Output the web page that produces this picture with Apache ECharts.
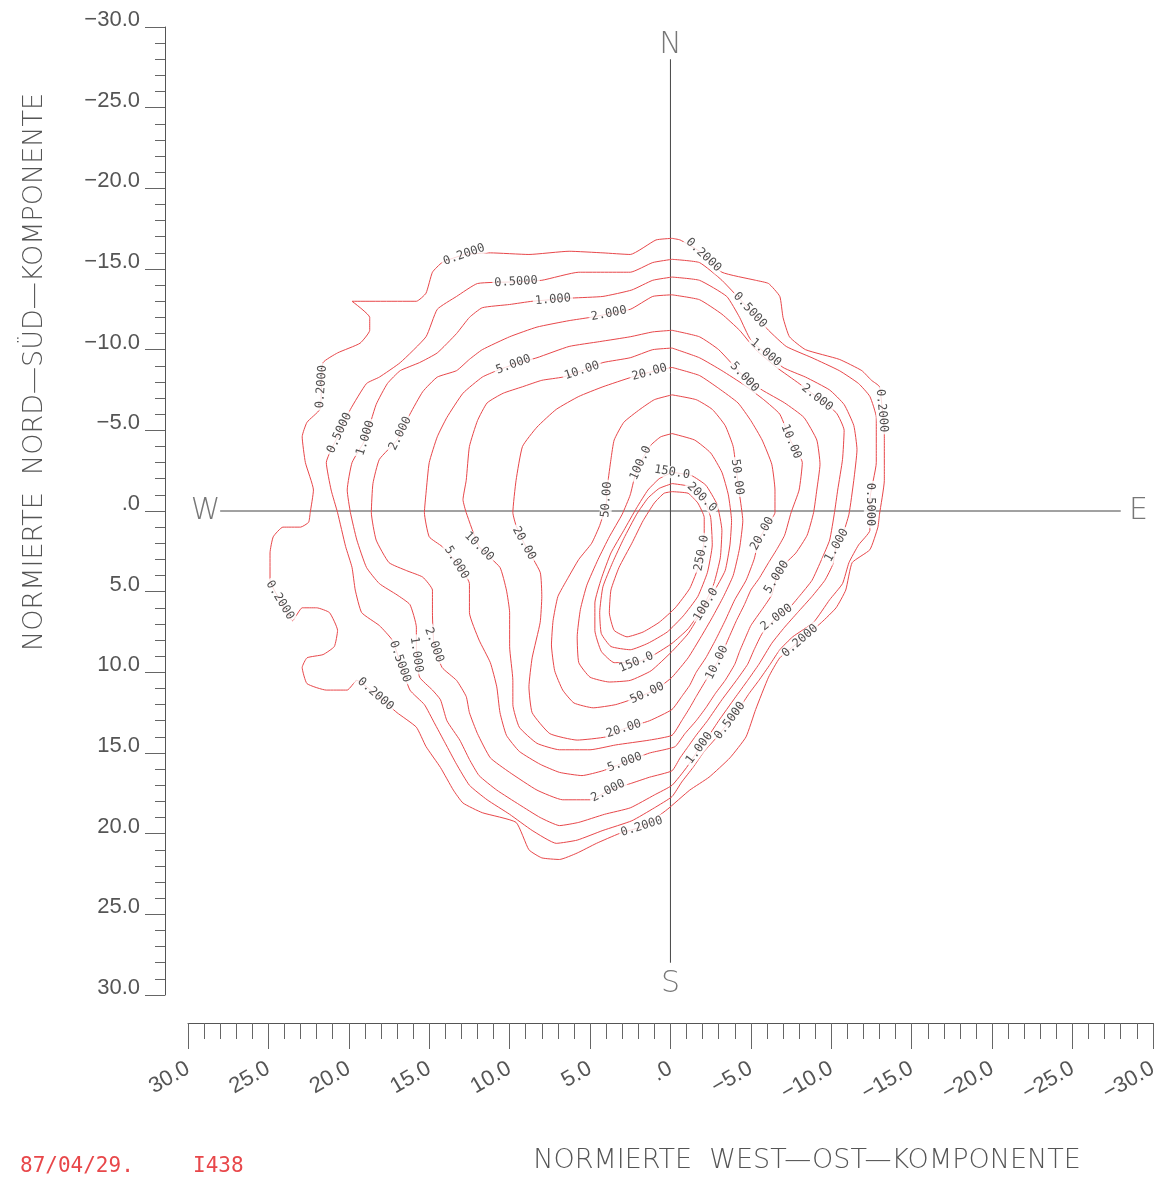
<!DOCTYPE html>
<html>
<head>
<meta charset="utf-8">
<title>Normierte Nord-Süd / West-Ost Komponente</title>
<script src="https://cdn.jsdelivr.net/npm/echarts@6/dist/echarts.min.js"></script>
<style>
  html, body { margin: 0; padding: 0; background: #fff; }
  #chart { width: 1161px; height: 1180px; }
</style>
</head>
<body>
<div id="chart"></div>
<script>
//////////// data ////////////
// contour levels, outermost first
var levels = [0.2, 0.5, 1, 2, 5, 10, 20, 50, 100, 150, 200, 250];

// contour paths as [west-ost, nord-sued] pairs
var contour_0_2 = [[-0.1,-16.9],[-0.6,-16.8],[-1.8,-16.1],[-3.2,-14.8],[-5.3,-14.3],[-6.1,-14.1],[-6.8,-13.3],[-7.0,-12.0],[-7.4,-10.8],[-8.4,-10.0],[-10.5,-9.4],[-11.9,-8.7],[-12.5,-8.1],[-13.0,-7.7],[-13.3,-4.6],[-13.3,-1.9],[-13.0,0.2],[-12.9,1.0],[-12.4,2.4],[-11.3,3.2],[-10.9,4.9],[-10.3,6.0],[-9.4,6.9],[-8.0,8.1],[-6.8,9.1],[-6.1,10.3],[-5.3,12.3],[-4.7,14.0],[-3.7,15.3],[-2.4,16.5],[-1.2,17.3],[0.2,18.5],[1.6,19.5],[3.2,20.0],[4.6,20.6],[5.8,21.2],[6.9,21.6],[8.0,21.5],[8.8,21.0],[9.6,19.3],[11.7,18.7],[12.9,18.1],[13.5,17.3],[14.3,15.9],[15.2,14.6],[15.8,13.4],[17.0,12.5],[18.4,11.3],[19.5,10.5],[20.1,11.1],[21.4,11.1],[22.6,10.7],[22.9,9.7],[22.6,9.1],[21.6,8.9],[20.9,8.4],[20.7,7.4],[21.2,6.3],[22.0,6.0],[22.9,6.0],[23.5,6.8],[24.3,5.5],[24.9,4.3],[24.9,2.6],[24.7,1.6],[24.1,1.0],[23.0,1.0],[22.5,0.7],[22.4,0.1],[22.2,-1.3],[22.7,-3.0],[22.9,-4.6],[22.6,-5.5],[21.8,-6.3],[21.7,-7.7],[21.6,-9.2],[20.7,-9.8],[19.3,-10.4],[18.7,-11.2],[18.7,-12.0],[19.8,-13.0],[15.8,-13.0],[15.2,-13.5],[14.8,-14.8],[14.2,-15.4],[12.8,-15.9],[11.2,-16.0],[8.8,-15.9],[6.3,-16.1],[4.2,-16.0],[2.5,-15.9],[0.9,-16.8]];
var contour_0_5 = [[-0.1,-15.6],[-1.8,-15.4],[-3.2,-14.3],[-4.9,-12.5],[-6.1,-11.2],[-7.2,-10.2],[-8.8,-9.5],[-10.5,-8.7],[-11.7,-7.9],[-12.4,-7.1],[-12.8,-5.8],[-12.8,-3.0],[-12.4,-0.7],[-12.4,1.2],[-11.7,2.1],[-11.1,3.2],[-10.7,4.5],[-9.9,5.5],[-8.9,6.9],[-7.6,7.8],[-6.8,8.6],[-6.2,9.5],[-5.5,10.5],[-4.9,11.3],[-4.3,12.2],[-3.7,13.0],[-2.9,14.0],[-2.1,14.9],[-1.4,15.9],[-0.7,16.8],[-0.1,17.7],[1.0,18.4],[2.4,19.2],[4.2,19.8],[5.8,20.4],[7.1,20.6],[8.6,19.8],[10.0,18.8],[11.4,17.9],[12.5,17.0],[13.3,15.7],[14.0,14.4],[14.7,13.1],[15.3,12.0],[16.2,11.1],[16.8,9.4],[17.3,8.0],[18.1,7.1],[19.2,6.3],[19.6,4.9],[19.8,3.5],[20.2,2.2],[20.7,0.1],[21.1,-1.3],[21.4,-3.0],[20.6,-4.8],[19.9,-6.3],[18.9,-7.9],[18.1,-8.3],[16.8,-9.2],[15.2,-10.8],[14.5,-12.5],[13.3,-13.3],[12.0,-14.1],[9.7,-14.2],[8.0,-14.3],[5.7,-14.8],[2.5,-14.8],[1.1,-15.4]];
var contour_1 = [[-0.1,-14.5],[-1.8,-14.3],[-3.5,-13.3],[-4.3,-12.0],[-5.0,-10.6],[-7.0,-8.9],[-8.4,-8.3],[-9.9,-7.5],[-10.8,-6.6],[-11.4,-5.3],[-11.6,-3.8],[-11.4,-1.9],[-11.1,0.2],[-10.7,1.5],[-10.3,2.2],[-10.1,3.3],[-9.6,4.3],[-8.8,5.3],[-7.9,6.3],[-7.1,7.2],[-6.3,8.2],[-5.5,9.5],[-4.8,10.5],[-4.0,11.6],[-3.0,13.0],[-2.4,13.9],[-1.8,14.7],[-1.0,15.9],[-0.1,17.0],[1.0,17.6],[2.5,18.4],[4.1,18.8],[5.7,19.3],[6.9,19.5],[8.1,19.0],[9.4,18.2],[10.8,17.3],[11.9,16.4],[12.5,15.4],[13.1,14.2],[13.9,13.0],[14.3,11.7],[14.8,11.1],[15.6,10.3],[15.8,8.9],[15.8,7.2],[16.2,5.8],[17.0,5.2],[18.1,4.5],[18.9,3.5],[19.5,1.8],[19.9,0.1],[20.1,-1.3],[19.8,-3.0],[19.0,-4.4],[18.3,-6.6],[17.6,-7.9],[16.8,-8.7],[15.6,-9.2],[14.5,-9.8],[13.3,-11.0],[12.5,-12.0],[11.7,-12.6],[10.0,-12.8],[8.6,-13.0],[6.1,-13.2],[4.2,-13.3],[2.4,-13.7],[1.1,-14.3]];
var contour_2 = [[-0.1,-13.4],[-1.8,-13.1],[-3.2,-12.2],[-4.3,-11.2],[-5.3,-10.0],[-6.6,-8.9],[-8.0,-7.9],[-10.3,-6.1],[-10.8,-5.0],[-10.7,-3.2],[-10.4,-1.3],[-10.2,0.1],[-9.9,1.8],[-9.4,3.0],[-8.8,4.3],[-8.0,5.3],[-7.4,6.0],[-6.6,6.6],[-5.7,7.6],[-5.2,8.6],[-4.8,9.5],[-4.1,10.5],[-3.2,11.7],[-2.3,13.0],[-1.6,13.9],[-1.1,14.6],[-0.6,15.3],[-0.1,16.1],[1.3,16.5],[2.5,16.9],[3.8,17.3],[5.0,17.9],[6.7,17.9],[8.3,17.3],[10.0,16.2],[11.2,15.3],[12.0,13.8],[12.5,12.5],[12.7,11.5],[13.3,10.5],[14.2,9.7],[14.7,8.3],[14.8,6.3],[14.8,4.9],[15.4,4.1],[16.4,3.7],[17.5,3.2],[18.3,1.8],[18.6,0.1],[18.5,-1.7],[18.1,-3.2],[17.0,-4.4],[16.2,-6.0],[15.4,-7.4],[14.5,-8.3],[13.3,-8.7],[12.5,-9.4],[11.7,-10.0],[10.0,-10.8],[8.3,-11.4],[6.3,-11.8],[5.0,-12.0],[2.5,-12.5],[1.1,-13.3]];
var contour_5 = [[-0.1,-11.2],[-1.8,-10.8],[-3.0,-10.0],[-4.6,-8.3],[-5.7,-7.5],[-7.1,-6.7],[-8.3,-5.8],[-9.1,-4.4],[-9.3,-2.9],[-9.1,-1.3],[-8.9,0.1],[-8.5,1.5],[-7.8,2.6],[-7.1,3.3],[-6.6,4.1],[-6.3,5.2],[-5.7,6.1],[-5.0,7.1],[-4.6,8.0],[-4.3,8.7],[-4.0,9.5],[-3.4,10.5],[-2.8,11.3],[-2.2,12.2],[-1.6,13.0],[-0.9,13.8],[-0.3,14.6],[0.4,14.8],[1.3,15.0],[2.9,15.6],[4.2,16.1],[5.5,16.4],[6.9,16.2],[8.1,15.7],[9.4,14.9],[10.2,13.9],[10.6,12.5],[10.8,10.9],[11.2,9.4],[11.9,8.0],[12.5,6.3],[12.5,4.5],[13.3,3.2],[14.2,2.2],[15.0,1.6],[15.3,0.1],[15.2,-1.1],[15.0,-3.0],[14.5,-4.6],[13.9,-5.8],[12.9,-7.3],[11.7,-8.3],[10.8,-8.7],[9.7,-9.1],[8.3,-9.5],[6.3,-10.2],[4.4,-10.5],[2.5,-10.8],[1.1,-11.1]];
var contour_10 = [[-0.1,-10.1],[-1.8,-9.5],[-3.2,-8.7],[-4.6,-7.8],[-5.8,-6.9],[-6.8,-6.0],[-7.5,-4.3],[-8.2,-3.0],[-8.0,-1.3],[-7.5,0.1],[-7.1,1.5],[-6.6,2.4],[-6.1,3.2],[-5.5,4.2],[-5.0,4.9],[-4.6,5.8],[-4.1,6.8],[-3.7,7.7],[-3.3,8.6],[-2.9,9.4],[-2.2,10.5],[-1.6,11.5],[-1.2,12.2],[-0.7,13.0],[-0.1,13.9],[1.3,14.2],[3.4,14.5],[5.0,14.8],[6.9,14.8],[8.3,14.4],[9.4,13.4],[9.8,12.0],[9.8,10.5],[10.0,8.4],[10.0,6.3],[10.2,4.9],[10.6,3.5],[11.9,2.2],[12.7,0.1],[12.9,-0.7],[12.7,-1.9],[12.5,-4.0],[12.0,-5.6],[11.4,-6.7],[10.4,-7.3],[9.2,-7.7],[8.0,-8.1],[6.7,-8.3],[5.5,-8.7],[4.2,-9.2],[2.5,-9.5],[1.1,-10.0]];
var contour_20 = [[-0.1,-8.9],[-1.8,-8.4],[-3.0,-7.6],[-4.2,-6.7],[-5.0,-5.6],[-5.7,-4.4],[-6.3,-2.9],[-6.5,-1.3],[-6.5,0.1],[-6.0,0.9],[-5.5,1.8],[-5.2,3.0],[-4.7,4.3],[-4.0,5.5],[-3.4,6.8],[-2.8,8.0],[-2.2,9.1],[-1.6,10.0],[-1.2,10.8],[-0.7,11.5],[-0.1,12.3],[1.3,13.0],[2.9,13.5],[4.0,14.0],[5.8,14.2],[7.5,13.8],[8.6,12.5],[8.8,10.9],[8.6,9.1],[8.1,6.9],[8.0,5.3],[8.1,3.8],[9.1,2.0],[9.6,0.9],[9.8,0.1],[9.6,-1.9],[9.2,-4.0],[8.3,-5.2],[7.1,-6.3],[5.7,-7.1],[4.2,-7.7],[2.4,-8.3],[1.3,-8.6]];
var contour_50 = [[-0.1,-7.2],[-1.6,-6.9],[-2.6,-6.3],[-3.4,-5.3],[-3.9,-4.0],[-4.1,-2.5],[-4.3,-1.0],[-4.5,0.6],[-4.3,2.3],[-3.9,4.0],[-3.3,5.3],[-2.6,6.6],[-1.9,7.8],[-1.1,9.1],[-0.1,10.3],[0.8,11.0],[1.9,11.5],[3.4,12.0],[4.8,12.2],[6.0,11.9],[6.7,11.1],[7.2,9.9],[7.4,8.3],[7.3,6.8],[7.0,5.3],[6.4,4.2],[5.7,3.0],[4.9,2.0],[4.4,0.9],[4.0,-0.4],[3.9,-1.7],[3.7,-3.2],[3.5,-4.4],[2.9,-5.5],[1.9,-6.3],[1.0,-6.9]];
var contour_100 = [[-0.1,-4.8],[-1.5,-4.4],[-2.5,-3.6],[-3.2,-2.4],[-3.6,-1.0],[-3.8,0.6],[-3.7,2.1],[-3.4,3.7],[-2.7,5.0],[-1.9,6.3],[-1.1,7.6],[-0.1,8.7],[1.2,9.9],[2.5,10.5],[3.8,10.6],[5.0,10.3],[5.7,9.4],[5.8,7.8],[5.6,6.1],[5.2,4.6],[4.5,3.0],[3.8,1.6],[3.0,0.2],[2.5,-1.0],[2.2,-2.2],[1.7,-3.3],[1.2,-4.1],[0.6,-4.6]];
var contour_150 = [[-0.1,-2.4],[-1.3,-2.2],[-2.2,-1.6],[-2.9,-0.4],[-3.2,1.2],[-3.1,2.9],[-2.7,4.5],[-2.0,6.0],[-1.1,7.3],[-0.1,8.2],[1.0,8.9],[2.2,9.4],[3.5,9.4],[4.3,8.7],[4.7,7.4],[4.7,5.7],[4.3,4.2],[3.7,2.6],[2.9,1.2],[2.1,-0.2],[1.4,-1.3],[0.7,-2.0]];
var contour_200 = [[-0.1,-1.7],[-1.3,-1.5],[-2.1,-0.7],[-2.5,0.4],[-2.6,2.1],[-2.3,3.8],[-1.7,5.3],[-0.8,6.5],[0.2,7.5],[1.4,8.2],[2.5,8.6],[3.7,8.4],[4.3,7.6],[4.4,6.3],[4.2,4.7],[3.6,3.2],[2.9,1.7],[2.1,0.2],[1.4,-0.8],[0.7,-1.4]];
var contour_250 = [[-0.1,-1.2],[-1.1,-1.1],[-1.7,-0.5],[-2.1,0.4],[-2.1,1.8],[-1.8,3.3],[-1.2,4.8],[-0.3,6.0],[0.7,6.9],[1.7,7.5],[2.7,7.8],[3.5,7.4],[3.8,6.3],[3.7,4.9],[3.2,3.5],[2.4,2.0],[1.7,0.6],[1.0,-0.5],[0.4,-1.1]];

var contours = [contour_0_2, contour_0_5, contour_1, contour_2, contour_5, contour_10,
                contour_20, contour_50, contour_100, contour_150, contour_200, contour_250];

// where the value of a contour is written: [level, x, y]
var labelSpots = [
  [0.2, 12.8, -15.8], [0.2, -1.9, -15.7], [0.2, 21.7, -7.7], [0.2, -13.0, -6.2],
  [0.2, 24.4, 5.6], [0.2, 18.3, 11.3], [0.2, 1.8, 19.5], [0.2, -8.1, 8.1],
  [0.5, 9.6, -14.2], [0.5, -5.0, -12.5], [0.5, 20.5, -4.8], [0.5, -12.4, -0.4],
  [0.5, 17.0, 9.4], [0.5, -3.7, 13.0],
  [1, 7.3, -13.0], [1, -6.0, -9.9], [1, 18.9, -4.5], [1, -10.3, 2.1],
  [1, 16.0, 8.9], [1, -1.8, 14.7],
  [2, 3.8, -12.1], [2, -9.1, -7.0], [2, 17.0, -4.9], [2, -6.6, 6.6],
  [2, 14.7, 8.3], [2, 3.9, 17.3],
  [5, 9.7, -8.9], [5, -4.6, -8.3], [5, 13.3, 3.2], [5, -6.6, 4.1], [5, 2.9, 15.4],
  [10, 5.5, -8.7], [10, -7.5, -4.3], [10, 11.9, 2.2], [10, -2.9, 9.4],
  [20, 1.3, -8.6], [20, 9.1, 2.0], [20, -5.7, 1.4], [20, 2.9, 13.5],
  [50, 3.9, -0.7], [50, -4.1, -2.1], [50, 1.5, 11.2],
  [100, 1.9, -3.0], [100, -2.2, 5.8],
  [150, -0.1, -2.4], [150, 2.2, 9.2],
  [200, -1.8, -0.7],
  [250, -1.9, 2.6]
];

// crosshair through the origin and the compass letters
var crossNS = [[0, -28], [0, 28]];
var crossWE = [[28, 0], [-28, 0]];
var compass = [['N', 0, -28.9], ['S', 0, 29.3], ['W', 28.9, 0], ['E', -29.1, 0]];

// axis range and step of the labelled ticks
var axisMin = -30, axisMax = 30, axisStep = 5;

//////////// styles ////////////
var RED = '#e8474a';
var INK = '#555';

function fmtTick(v) {
  if (v === 0) return '.0';
  return (v < 0 ? '\u2212' : '') + Math.abs(v).toFixed(1);
}

function fmtLevel(v) {
  return v.toPrecision(4);
}

function closed(pts) {
  return pts.concat([pts[0]]);
}

//////////// chart ////////////
var chart = echarts.init(document.getElementById('chart'));

var series = [];
contours.forEach(function (pts, i) {
  series.push({
    name: fmtLevel(levels[i]),
    type: 'line',
    data: closed(pts),
    symbol: 'none',
    smooth: 0.15,
    silent: true,
    lineStyle: { color: RED, width: 1 },
    z: 2
  });
});

series.push({
  type: 'line', data: crossNS, symbol: 'none', silent: true,
  lineStyle: { color: '#444', width: 1 }, z: 1
});
series.push({
  type: 'line', data: crossWE, symbol: 'none', silent: true,
  lineStyle: { color: '#444', width: 1 }, z: 1
});

series.push({
  type: 'scatter',
  symbolSize: 0,
  silent: true,
  data: compass.map(function (c) { return { name: c[0], value: [c[1], c[2]] }; }),
  label: {
    show: true, position: 'inside', formatter: '{b}',
    fontFamily: 'DejaVu Sans', fontWeight: 200, fontSize: 30, color: INK
  },
  z: 5
});

series.push({
  id: 'contourLabels',
  type: 'scatter',
  symbolSize: 0,
  silent: true,
  data: [],
  label: {
    show: true, position: 'inside', formatter: '{b}',
    fontFamily: 'DejaVu Sans Mono', fontSize: 12, color: '#222',
    backgroundColor: '#fff', padding: [0, 2]
  },
  z: 10
});

var axisFont = { color: INK, fontFamily: 'Liberation Sans', fontSize: 22 };

var option = {
  animation: false,
  backgroundColor: '#fff',
  grid: { left: 188, right: 7, top: 27, bottom: 185 },
  xAxis: {
    type: 'value', min: axisMin, max: axisMax, interval: axisStep, inverse: true,
    position: 'bottom', offset: 28,
    axisLine: { show: true, onZero: false, lineStyle: { color: INK, width: 1 } },
    axisTick: { show: true, inside: false, length: 26, lineStyle: { color: '#666' } },
    minorTick: { show: true, splitNumber: 5, length: 16, lineStyle: { color: '#666' } },
    splitLine: { show: false },
    minorSplitLine: { show: false },
    axisLabel: Object.assign({ rotate: 30, margin: 44, formatter: fmtTick, hideOverlap: false }, axisFont)
  },
  yAxis: {
    type: 'value', min: axisMin, max: axisMax, interval: axisStep, inverse: true,
    position: 'left', offset: 23,
    axisLine: { show: true, onZero: false, lineStyle: { color: INK, width: 1 } },
    axisTick: { show: true, inside: false, length: 20, lineStyle: { color: '#666' } },
    minorTick: { show: true, splitNumber: 5, length: 10, lineStyle: { color: '#666' } },
    splitLine: { show: false },
    minorSplitLine: { show: false },
    axisLabel: Object.assign({ margin: 25, verticalAlign: 'bottom', lineHeight: 14, formatter: fmtTick, hideOverlap: false }, axisFont)
  },
  graphic: [
    {
      type: 'text', x: 35, y: 372, rotation: Math.PI / 2,
      style: {
        text: 'NORMIERTE  NORD\u2014S\u00dcD\u2014KOMPONENTE',
        fill: INK, font: '200 27px "DejaVu Sans"',
        textAlign: 'center', textVerticalAlign: 'middle', align: 'center', verticalAlign: 'middle'
      }
    },
    {
      type: 'text', x: 807, y: 1161,
      style: {
        text: 'NORMIERTE  WEST\u2014OST\u2014KOMPONENTE',
        fill: INK, font: '200 27px "DejaVu Sans"',
        textAlign: 'center', textVerticalAlign: 'middle', align: 'center', verticalAlign: 'middle'
      }
    },
    {
      type: 'text', x: 20, y: 1167,
      style: {
        text: '87/04/29.', fill: RED, font: '21px "DejaVu Sans Mono"',
        textAlign: 'left', textVerticalAlign: 'middle', align: 'left', verticalAlign: 'middle'
      }
    },
    {
      type: 'text', x: 193, y: 1167,
      style: {
        text: 'I438', fill: RED, font: '21px "DejaVu Sans Mono"',
        textAlign: 'left', textVerticalAlign: 'middle', align: 'left', verticalAlign: 'middle'
      }
    }
  ],
  series: series
};

chart.setOption(option);
placeContourLabels();

// put each value label on its contour and turn it along the line
function placeContourLabels() {
  var toPx = function (p) { return chart.convertToPixel({ seriesIndex: 0 }, p); };
  var items = labelSpots.map(function (spot) {
    var pts = contours[levels.indexOf(spot[0])];
    var p = toPx([spot[1], spot[2]]);
    var best = { d: Infinity };
    for (var i = 0; i < pts.length; i++) {
      var a = toPx(pts[i]);
      var b = toPx(pts[(i + 1) % pts.length]);
      var vx = b[0] - a[0], vy = b[1] - a[1];
      var len2 = vx * vx + vy * vy || 1;
      var t = ((p[0] - a[0]) * vx + (p[1] - a[1]) * vy) / len2;
      t = Math.max(0, Math.min(1, t));
      var qx = a[0] + t * vx, qy = a[1] + t * vy;
      var d = (p[0] - qx) * (p[0] - qx) + (p[1] - qy) * (p[1] - qy);
      if (d < best.d) {
        best = { d: d, q: [qx, qy], ang: Math.atan2(-vy, vx) * 180 / Math.PI };
      }
    }
    var ang = best.ang;
    if (ang > 90) ang -= 180;
    if (ang < -90) ang += 180;
    return {
      name: fmtLevel(spot[0]),
      value: chart.convertFromPixel({ seriesIndex: 0 }, best.q),
      label: { rotate: ang }
    };
  });
  chart.setOption({ series: [{ id: 'contourLabels', data: items }] });
}
</script>
</body>
</html>
